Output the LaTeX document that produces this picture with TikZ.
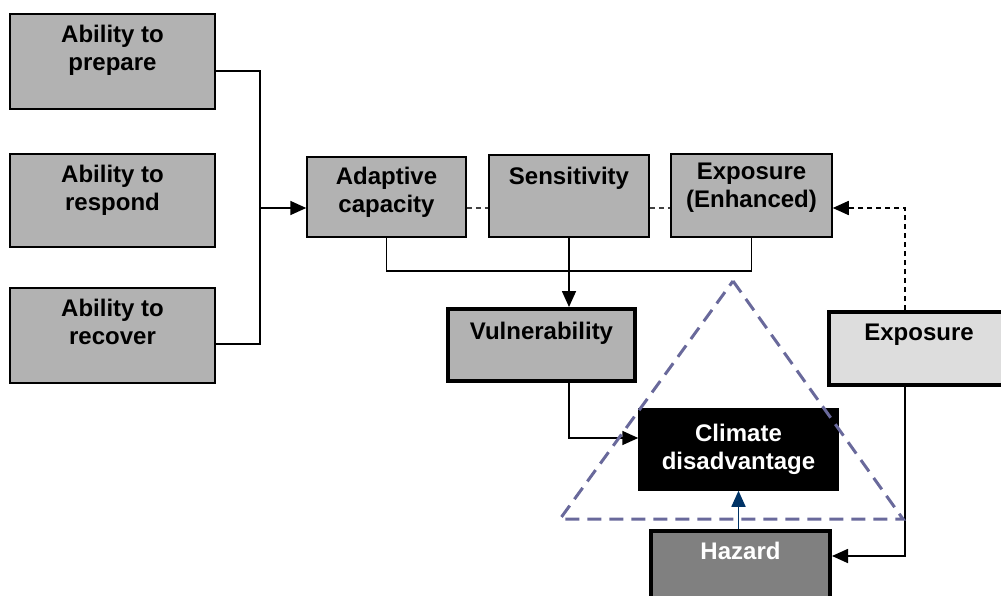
\documentclass[tikz,border=0pt]{standalone}
\usepackage{fontspec}
\setmainfont{Liberation Sans}
\usetikzlibrary{arrows.meta}
\definecolor{boxgray}{RGB}{178,178,178}
\definecolor{lightgray}{RGB}{221,221,221}
\definecolor{hazgray}{RGB}{128,128,128}
\definecolor{navy}{RGB}{0,51,102}
\definecolor{trigray}{RGB}{105,105,155}
\begin{document}
\begin{tikzpicture}[x=1pt,y=1pt]
                \tikzstyle{every node}+=[inner sep=0pt]
                \tikzstyle{box}=[draw=black, line width=1.5pt, fill=boxgray, rectangle]
                \tikzstyle{thickbox}=[box, line width=4pt]
                \tikzstyle{txt}=[anchor=north, align=center, font=\fontsize{24}{28}\selectfont\bfseries]
                \tikzstyle{arr}=[-{Triangle[length=16pt,width=14pt]}]
                \tikzstyle{link}=[black, line width=1.7pt]
                \useasboundingbox (0,0) rectangle (1001,-596);
                \clip (0,0) rectangle (1001,-596);
                % left column
                \node [box, minimum width=205pt, minimum height=95pt] (prep) at (112.5,-61.5) {};
                \node [txt] (prep-t) at ([yshift=-12]prep.north) {Ability to\\prepare};
                \node [box, minimum width=205pt, minimum height=93pt] (resp) at (112.5,-200.5) {};
                \node [txt] (resp-t) at ([yshift=-12]resp.north) {Ability to\\respond};
                \node [box, minimum width=205pt, minimum height=95pt] (reco) at (112.5,-335.5) {};
                \node [txt] (reco-t) at ([yshift=-12]reco.north) {Ability to\\recover};
                % middle row
                \node [box, minimum width=159pt, minimum height=80pt] (adap) at (386.5,-197) {};
                \node [txt] (adap-t) at ([yshift=-11]adap.north) {Adaptive\\capacity};
                \node [box, minimum width=160pt, minimum height=82pt] (sens) at (569,-196) {};
                \node [txt] (sens-t) at ([yshift=-13]sens.north) {Sensitivity};
                \node [box, minimum width=161pt, minimum height=83pt] (expe) at (751.5,-195.5) {};
                \node [txt] (expe-t) at ([yshift=-10]expe.north) {Exposure\\(Enhanced)};
                % lower boxes
                \node [thickbox, minimum width=187pt, minimum height=72pt] (vul) at (541.5,-345) {};
                \node [txt] (vul-t) at ([yshift=-15]vul.north) {Vulnerability};
                \node [thickbox, fill=lightgray, minimum width=180pt, minimum height=73pt] (expo) at (919,-348.5) {};
                \node [txt] (expo-t) at ([yshift=-14]expo.north) {Exposure};
                \node [box, fill=black, minimum width=199pt, minimum height=81pt] (clim) at (738.5,-449.5) {};
                \node [txt, text=white] (clim-t) at ([yshift=-16]clim.north) {Climate\\disadvantage};
                \node [thickbox, fill=hazgray, minimum width=179pt, minimum height=89pt] (haz) at (740.5,-575.5) {};
                \node [txt, text=white] (haz-t) at ([yshift=-13]haz.north) {Hazard};
                % connectors
                \coordinate (jn) at (260,-208);
                \coordinate (xt) at (905,-310);
                \draw [link] ([yshift=-9.5]prep.east) -| (jn) |- ([yshift=-8.5]reco.east);
                \draw [link, arr] (jn) -- (jn -| adap.west);
                \draw [black!75, line width=1.5pt, dash pattern=on 5pt off 4pt] (jn -| adap.east) -- (jn -| sens.west);
                \draw [black!75, line width=1.5pt, dash pattern=on 5pt off 4pt] (jn -| sens.east) -- (jn -| expe.west);
                \draw [link, arr, dash pattern=on 5pt off 4pt] (xt) |- (jn -| expe.east);
                \draw [link] (adap.south) -- ++(0,-33) -| (expe.south);
                \draw [link, arr] (sens.south) -- (sens.south |- vul.north);
                \draw [link, arr] (sens.south |- vul.south) |- ([yshift=11.5]clim.west);
                \draw [navy, line width=1.7pt, arr] (haz.north -| clim.south) -- (clim.south);
                \draw [link, arr] (xt |- expo.south) |- (haz.east |- 0,-556);
                % dashed triangle
                \draw [trigray, line width=3pt, dash pattern=on 14pt off 8pt] (733,-281) -- (903,-519) -- (560,-519) -- cycle;
\end{tikzpicture}
\end{document}
